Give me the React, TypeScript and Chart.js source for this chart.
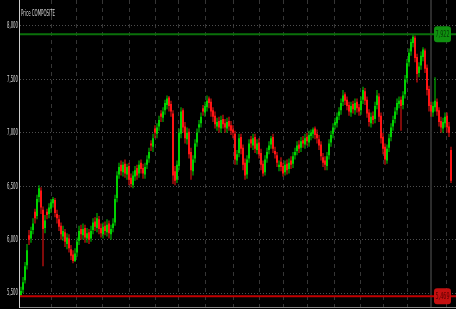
import React, { useEffect, useRef } from 'react';
import { Chart, registerables } from 'chart.js';

Chart.register(...registerables);

const chartTitle = 'Price COMPOSITE';

const opens = [
  5480, 5530, 5620, 5760, 6040, 6010, 6090, 6260, 6220, 6400, 6460, 6280,
  6110, 6260, 6240, 6290, 6340, 6370, 6240, 6190, 6130, 6030, 6070, 5960,
  6010, 5910, 5860, 5800, 5880, 5990, 6100, 6040, 6110, 6010, 6070, 6010,
  6090, 6170, 6110, 6190, 6110, 6050, 6130, 6070, 6150, 6050, 6110, 6160,
  6390, 6610, 6700, 6630, 6710, 6610, 6690, 6580, 6510, 6590, 6670, 6620,
  6720, 6670, 6610, 6700, 6760, 6900, 6870, 7040, 6990, 7060, 7180, 7140,
  7210, 7260, 7330, 7270, 7180, 6640, 6560, 6690, 6990, 7210, 7060, 6940,
  7010, 6820, 6640, 6760, 6910, 7050, 7090, 7230, 7190, 7240, 7320, 7290,
  7210, 7160, 7060, 7110, 7040, 7130, 7090, 7040, 7110, 7070, 7030, 6990,
  6740, 6810, 6960, 6860, 6720, 6610, 6760, 6940, 6880, 6960, 6840, 6910,
  6810, 6710, 6630, 6760, 6840, 6890, 6960, 6830, 6790, 6680, 6730, 6690,
  6630, 6710, 6660, 6740, 6710, 6790, 6830, 6890, 6860, 6930, 6890, 6960,
  6910, 6970, 6990, 7040, 6990, 6940, 6890, 6770, 6740, 6690, 6790, 6910,
  6990, 7070, 7090, 7160, 7210, 7290, 7360, 7310, 7260, 7190, 7270, 7210,
  7290, 7240, 7210, 7310, 7390, 7310, 7190, 7090, 7160, 7130, 7260, 7340,
  7160, 6960, 6870, 6740, 6860, 6960, 7060, 7130, 7210, 7270, 7310, 7260,
  7360, 7510, 7660, 7760, 7840, 7890, 7710, 7560, 7630, 7710, 7770, 7610,
  7410, 7260, 7190, 7240, 7290, 7210, 7110, 7040, 7090, 7160, 7060, 6840,
];

const highs = [
  5560, 5650, 5790, 5960, 6090, 6120, 6200, 6290, 6420, 6510, 6490, 6310,
  6230, 6290, 6340, 6380, 6400, 6390, 6280, 6230, 6160, 6130, 6100, 6060,
  6050, 5950, 5900, 5920, 6020, 6130, 6140, 6150, 6140, 6110, 6100, 6130,
  6200, 6210, 6250, 6220, 6150, 6160, 6170, 6190, 6180, 6140, 6200, 6420,
  6640, 6720, 6740, 6730, 6750, 6710, 6720, 6620, 6640, 6690, 6700, 6740,
  6750, 6710, 6720, 6790, 6860, 6930, 6990, 7070, 7090, 7160, 7210, 7240,
  7310, 7350, 7345, 7300, 7210, 6690, 6740, 7040, 7240, 7230, 7100, 7050,
  7040, 6860, 6790, 6940, 7040, 7120, 7190, 7260, 7290, 7350, 7340, 7320,
  7240, 7200, 7140, 7150, 7160, 7170, 7130, 7140, 7150, 7110, 7070, 7020,
  6840, 6990, 6990, 6890, 6760, 6790, 6940, 6970, 6990, 6990, 6940, 6950,
  6850, 6740, 6790, 6860, 6920, 6970, 6990, 6870, 6820, 6740, 6770, 6720,
  6740, 6750, 6760, 6780, 6820, 6860, 6920, 6930, 6960, 6970, 6990, 7000,
  7020, 7030, 7050, 7060, 7030, 6980, 6920, 6810, 6780, 6820, 6940, 7020,
  7090, 7140, 7190, 7240, 7320, 7400, 7380, 7340, 7290, 7290, 7300, 7320,
  7320, 7270, 7340, 7430, 7420, 7340, 7220, 7190, 7200, 7290, 7400, 7370,
  7190, 7000, 6900, 6890, 6990, 7090, 7160, 7240, 7320, 7340, 7340, 7390,
  7540, 7690, 7790, 7880, 7922, 7910, 7740, 7660, 7760, 7800, 7790, 7640,
  7440, 7290, 7290, 7520, 7320, 7240, 7150, 7140, 7190, 7190, 7100, 6870,
];

const lows = [
  5469, 5500, 5590, 5720, 5950, 5970, 6050, 6150, 6190, 6350, 6240, 5750,
  6060, 6190, 6200, 6250, 6300, 6210, 6150, 6080, 6000, 5990, 5930, 5910,
  5880, 5810, 5780, 5790, 5840, 5950, 6000, 6000, 5970, 5970, 5960, 5980,
  6050, 6080, 6070, 6050, 6020, 6010, 6040, 6030, 6010, 6000, 6070, 6130,
  6350, 6570, 6600, 6590, 6580, 6560, 6510, 6490, 6480, 6550, 6560, 6580,
  6620, 6570, 6570, 6660, 6720, 6830, 6820, 6950, 6950, 7020, 7100, 7100,
  7170, 7220, 7200, 7150, 6520, 6510, 6530, 6650, 6950, 7000, 6900, 6890,
  6760, 6560, 6600, 6720, 6870, 7000, 7050, 7160, 7150, 7200, 7230, 7150,
  7100, 7040, 7020, 7000, 7000, 7040, 7000, 7000, 7020, 6980, 6950, 6700,
  6700, 6770, 6800, 6650, 6560, 6570, 6720, 6860, 6840, 6810, 6800, 6760,
  6650, 6590, 6600, 6720, 6800, 6850, 6810, 6760, 6680, 6640, 6640, 6590,
  6600, 6610, 6620, 6660, 6670, 6750, 6790, 6810, 6820, 6860, 6850, 6880,
  6870, 6930, 6950, 6940, 6900, 6840, 6740, 6680, 6650, 6650, 6750, 6870,
  6950, 7030, 7050, 7120, 7170, 7250, 7260, 7210, 7160, 7150, 7180, 7170,
  7190, 7160, 7170, 7270, 7260, 7140, 7060, 7050, 7080, 7090, 7220, 7100,
  6900, 6800, 6700, 6710, 6820, 6920, 7020, 7090, 7170, 7230, 7020, 7220,
  7320, 7470, 7620, 7720, 7800, 7660, 7470, 7520, 7590, 7670, 7560, 7350,
  7200, 7150, 7150, 7200, 7160, 7060, 7000, 7000, 7050, 7000, 6960, 6530,
];

const closes = [
  5520, 5600, 5750, 5900, 6000, 6080, 6150, 6200, 6380, 6480, 6300, 6100,
  6180, 6230, 6300, 6350, 6380, 6250, 6200, 6120, 6050, 6080, 5980, 6020,
  5920, 5850, 5800, 5870, 5980, 6080, 6050, 6100, 6020, 6060, 6000, 6080,
  6160, 6120, 6200, 6100, 6060, 6120, 6080, 6140, 6060, 6100, 6150, 6380,
  6600, 6680, 6640, 6700, 6620, 6680, 6560, 6520, 6600, 6650, 6600, 6700,
  6660, 6620, 6680, 6750, 6820, 6880, 6950, 7000, 7050, 7120, 7150, 7200,
  7280, 7320, 7250, 7200, 6600, 6550, 6700, 7000, 7200, 7050, 6950, 7000,
  6800, 6650, 6750, 6900, 7000, 7080, 7150, 7200, 7250, 7300, 7280, 7200,
  7150, 7080, 7100, 7050, 7120, 7080, 7050, 7100, 7060, 7020, 7000, 6750,
  6800, 6950, 6850, 6700, 6600, 6750, 6900, 6900, 6950, 6850, 6900, 6800,
  6700, 6620, 6750, 6820, 6880, 6950, 6850, 6800, 6720, 6700, 6680, 6620,
  6700, 6650, 6720, 6700, 6780, 6820, 6880, 6850, 6920, 6900, 6950, 6920,
  6980, 7000, 7030, 6980, 6950, 6880, 6780, 6720, 6700, 6780, 6900, 6980,
  7050, 7100, 7150, 7200, 7280, 7350, 7300, 7250, 7200, 7250, 7220, 7280,
  7230, 7200, 7300, 7400, 7300, 7180, 7100, 7150, 7120, 7250, 7350, 7150,
  6950, 6850, 6750, 6850, 6950, 7050, 7120, 7200, 7280, 7300, 7250, 7350,
  7500, 7650, 7750, 7850, 7900, 7700, 7550, 7620, 7720, 7780, 7600, 7400,
  7250, 7200, 7250, 7300, 7200, 7100, 7050, 7100, 7150, 7050, 7000, 6550,
];

const yTickValues = [5500, 6000, 6500, 7000, 7500, 8000];
const monthStartIdx = [15.75, 28.25, 41, 54.5, 67.75, 79, 92.75, 106.5, 119.5, 131.5, 143.75, 157, 170, 181.5, 193.75, 213.25];
const yearStartIdx = 205.5;

const UP = '#00d200';
const DOWN = '#ff1414';
const NARROW = '"Liberation Sans Narrow", "DejaVu Sans Condensed", "Liberation Sans", sans-serif';

function drawFitText(ctx: any, text: string, x: number, y: number, size: number, color: string, align: string, targetW: number) {
  ctx.save();
  ctx.font = `${size}px ${NARROW}`;
  ctx.fillStyle = color;
  ctx.textBaseline = 'middle';
  ctx.textAlign = 'left';
  const w = ctx.measureText(text).width;
  const sx = targetW / w;
  const left = align === 'right' ? x - targetW : align === 'center' ? x - targetW / 2 : x;
  ctx.translate(left, y);
  ctx.scale(sx, 1);
  ctx.fillText(text, 0, 0);
  ctx.restore();
}

export default function App() {
  const ref = useRef<HTMLCanvasElement>(null);

  useEffect(() => {
    document.body.style.margin = '0';
    document.body.style.background = '#000';
    const canvas = ref.current;
    if (!canvas) return;

    const resistance = Math.max(...highs);
    const support = Math.min(...lows);
    const fmt = (v: number) => Math.round(v).toLocaleString('en-US');
    const colors = closes.map((c, i) => (c >= opens[i] ? UP : DOWN));

    const wickData = closes.map((_, i) => ({ x: i + 0.5, y: [lows[i], highs[i]] }));
    const bodyData = closes.map((c, i) => ({ x: i + 0.5, y: [opens[i], c] }));

    const overlay = {
      id: 'overlay',
      beforeDraw(chart: any) {
        const { ctx, width, height } = chart;
        ctx.save();
        ctx.fillStyle = '#000';
        ctx.fillRect(0, 0, width, height);
        ctx.restore();
      },
      beforeDatasetsDraw(chart: any) {
        const { ctx, chartArea, scales } = chart;
        const x = Math.round(scales.x.getPixelForValue(yearStartIdx));
        ctx.save();
        ctx.fillStyle = '#2c2c2c';
        ctx.fillRect(x - 1, chartArea.top, 2, chartArea.bottom - chartArea.top);
        ctx.restore();
      },
      afterDatasetsDraw(chart: any) {
        const { ctx, chartArea, scales } = chart;
        const levels = [
          { v: resistance, line: '#0a700a', box: '#0f900f', text: '#063d06' },
          { v: support, line: '#c00000', box: '#c41010', text: '#560000' },
        ];
        levels.forEach((l) => {
          const y = scales.y.getPixelForValue(l.v);
          ctx.save();
          ctx.strokeStyle = l.line;
          ctx.lineWidth = 2;
          ctx.beginPath();
          ctx.moveTo(chartArea.left, y);
          ctx.lineTo(chartArea.right, y);
          ctx.stroke();
          ctx.fillStyle = l.box;
          ctx.beginPath();
          (ctx as any).roundRect(434, y - 8, 17, 16, 3);
          ctx.fill();
          ctx.restore();
          drawFitText(ctx, fmt(l.v), 442.5, y + 0.5, 8, l.text, 'center', 14);
        });
        drawFitText(ctx, chartTitle, chartArea.left + 1, 14, 9, '#d4d4d4', 'left', 34);
      },
      afterDraw(chart: any) {
        const { ctx, chartArea, scales } = chart;
        ctx.save();
        ctx.fillStyle = '#cfcfcf';
        ctx.fillRect(chartArea.left - 1, 0, 1, chartArea.bottom);
        ctx.fillStyle = '#8a8a8a';
        ctx.fillRect(chartArea.left, chartArea.bottom - 1, chartArea.right - chartArea.left, 1);
        ctx.restore();
        yTickValues.forEach((v) => {
          const y = scales.y.getPixelForValue(v);
          drawFitText(ctx, fmt(v), chartArea.left - 2, y, 9, '#d8d8d8', 'right', 11);
        });
      },
    };

    const chart = new Chart(canvas, {
      type: 'bar',
      data: {
        datasets: [
          {
            label: 'body',
            data: bodyData as any,
            backgroundColor: colors,
            borderWidth: 0,
            barThickness: 2,
            grouped: false,
            inflateAmount: 0,
            order: 0,
          } as any,
          {
            label: 'wick',
            data: wickData as any,
            backgroundColor: colors,
            borderWidth: 0,
            barThickness: 1,
            grouped: false,
            inflateAmount: 0,
            order: 1,
          } as any,
        ],
      },
      options: {
        animation: false,
        responsive: true,
        maintainAspectRatio: false,
        devicePixelRatio: 1,
        layout: { padding: 0 },
        plugins: { legend: { display: false }, tooltip: { enabled: false } },
        scales: {
          x: {
            type: 'linear',
            min: 0,
            max: 218,
            offset: false,
            ticks: { display: false },
            grid: { color: '#363636', lineWidth: 1, drawTicks: false, offset: false },
            border: { display: false, dash: [4, 4] },
            afterBuildTicks: (scale: any) => {
              scale.ticks = monthStartIdx.map((v) => ({ value: v }));
            },
            afterFit: (scale: any) => {
              scale.height = 1;
            },
          },
          y: {
            type: 'linear',
            min: 5360,
            max: 8243,
            ticks: { display: false },
            grid: { color: '#4e4e4e', lineWidth: 1, drawTicks: false },
            border: { display: false, dash: [1, 2] },
            afterBuildTicks: (scale: any) => {
              scale.ticks = yTickValues.map((v) => ({ value: v }));
            },
            afterFit: (scale: any) => {
              scale.width = 20;
            },
          },
        },
      } as any,
      plugins: [overlay],
    });

    return () => {
      chart.destroy();
    };
  }, []);

  return (
    <div style={{ width: 456, height: 309, position: 'relative' }}>
      <canvas ref={ref} />
    </div>
  );
}
